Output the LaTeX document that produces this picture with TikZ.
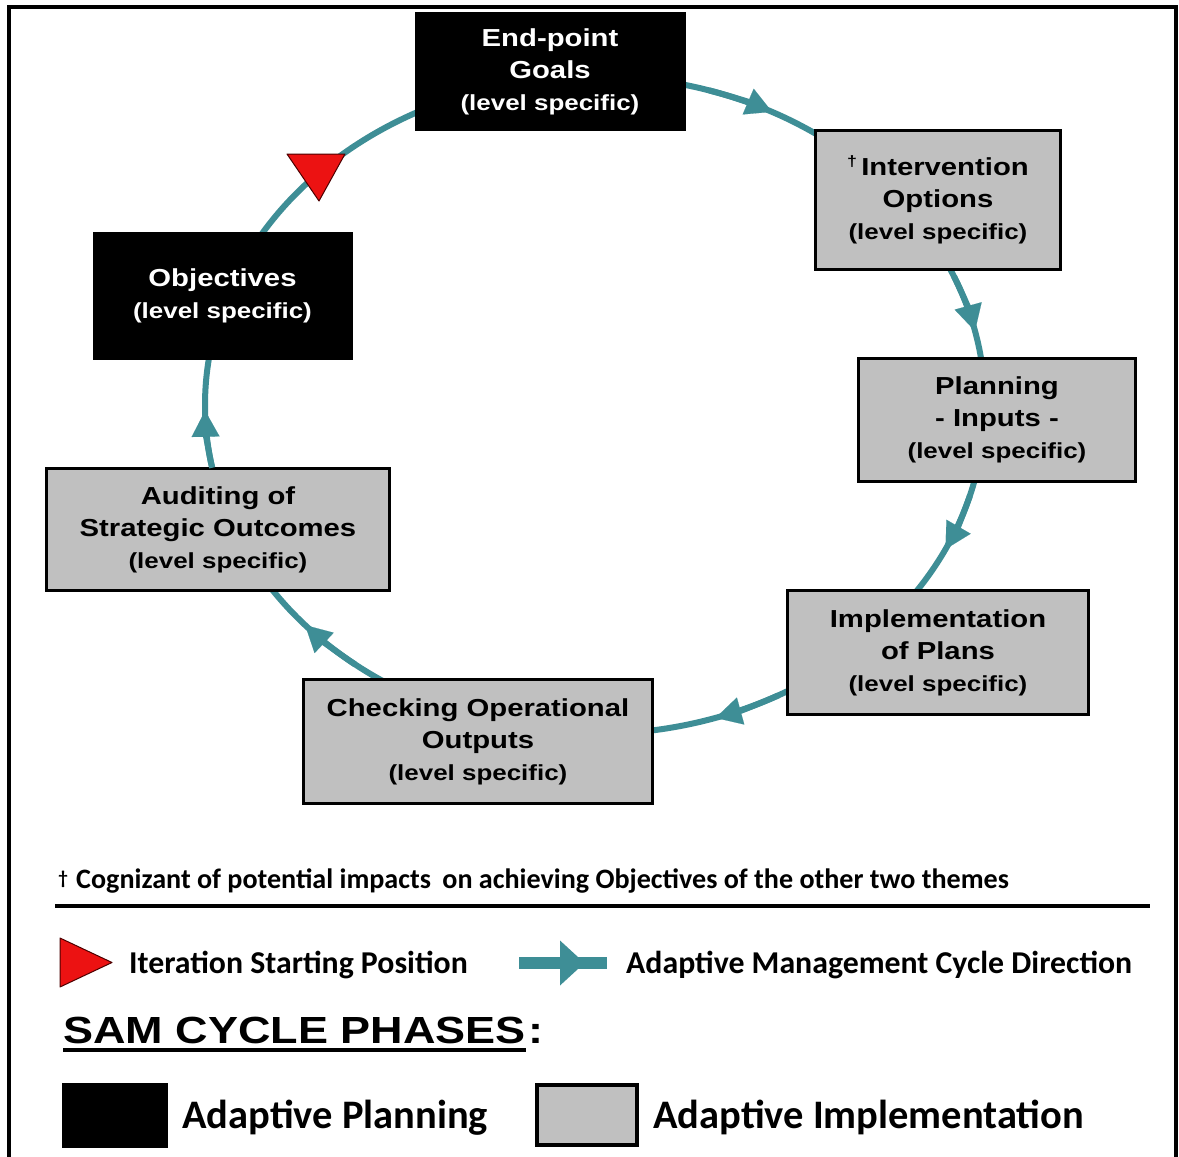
\documentclass[tikz,border=0pt]{standalone}
\usepackage{fontspec}
\setmainfont{Liberation Sans}
\newfontfamily\boxfont{Liberation Sans}[FakeStretch=1.19]
\newfontfamily\calfont{Carlito}
\usetikzlibrary{arrows.meta,calc}
\definecolor{cyc}{RGB}{62,142,150}
\definecolor{boxgray}{RGB}{192,192,192}
\definecolor{trired}{RGB}{236,18,18}
\pgfdeclarelayer{back}
\pgfdeclarelayer{bg}
\pgfsetlayers{back,bg,main}
\tikzset{
  cycline/.style={draw=cyc, line width=6pt},
  cyctip/.style={-{Triangle[length=26pt,width=28pt,line width=0.1pt]}},
  phasebox/.style={align=center, inner sep=0pt,
    font={\boxfont\bfseries\fontsize{24.6}{32}\selectfont}},
  planbox/.style={phasebox, fill=black, draw=black, line width=1pt, text=white},
  implbox/.style={phasebox, fill=boxgray, draw=black, line width=3.5pt, text=black},
  legtext/.style={anchor=base west, inner sep=0pt, font={\calfont\bfseries\fontsize{31.8}{36}\selectfont}},
  bigleg/.style={anchor=base west, inner sep=0pt, font={\calfont\bfseries\fontsize{40.5}{44}\selectfont}},
  starttri/.style={fill=trired, draw=black!70!red, line width=1pt, line join=round}
}
\newcommand\lvl{{\fontsize{21.8}{32}\selectfont (level specific)}}
\begin{document}
\begin{tikzpicture}[x=1pt,y=-1pt]
\useasboundingbox (0,0) rectangle (1179,1157);
\begin{pgfonlayer}{back}
  \fill[white] (0,0) rectangle (1179,1157);
\end{pgfonlayer}
% outer frame
\draw[line width=4pt] (9,1170) -- (9,7) -- (1175.5,7) -- (1175.5,1170);

% phase boxes
\node[planbox, minimum width=270, minimum height=118] (goals) at (550,71.5)
  {End-point\\Goals\\\lvl};
\node[implbox, minimum width=245, minimum height=139] (interv) at (938,200)
  {\raisebox{0.38em}{\fontsize{15}{15}\selectfont †}\,Intervention\\Options\\\lvl};
\node[implbox, minimum width=277, minimum height=123] (plan) at (997,420)
  {Planning\\- Inputs -\\\lvl};
\node[implbox, minimum width=301, minimum height=124] (impl) at (938,652.5)
  {Implementation\\of Plans\\\lvl};
\node[implbox, minimum width=349, minimum height=124] (check) at (478,741.5)
  {Checking Operational\\Outputs\\\lvl};
\node[implbox, minimum width=343, minimum height=122] (audit) at (218,529.5)
  {Auditing of\\Strategic Outcomes\\\lvl};
\node[planbox, minimum width=259, minimum height=127] (obj) at (222.5,295.5)
  {Objectives\\\lvl};

% cycle points inside the boxes
\coordinate (cg) at ($(595,405)+(97:390pt and 329pt)$);
\coordinate (ci) at ($(595,405)+(38:390pt and 329pt)$);
\coordinate (cp) at ($(595,405)+(2:390pt and 329pt)$);
\coordinate (cm) at ($(595,405)+(-45:390pt and 329pt)$);
\coordinate (cc) at ($(595,405)+(-95:390pt and 329pt)$);
\coordinate (ca) at ($(595,405)+(-158:390pt and 329pt)$);
\coordinate (co) at ($(595,405)+(-197:390pt and 329pt)$);

\begin{pgfonlayer}{bg}
  \draw[cycline] (cg) arc[start angle=97, end angle=38, x radius=390pt, y radius=329pt];
  \draw[cycline] (ci) arc[start angle=38, end angle=2, x radius=390pt, y radius=329pt];
  \draw[cycline] (cp) arc[start angle=2, end angle=-45, x radius=390pt, y radius=329pt];
  \draw[cycline] (cm) arc[start angle=-45, end angle=-95, x radius=390pt, y radius=329pt];
  \draw[cycline] (cc) arc[start angle=-95, end angle=-158, x radius=390pt, y radius=329pt];
  \draw[cycline] (ca) arc[start angle=-158, end angle=-197, x radius=390pt, y radius=329pt];
  \draw[cycline] (co) arc[start angle=-197, end angle=-263, x radius=390pt, y radius=329pt];
\end{pgfonlayer}

% direction arrowheads on the cycle
\foreach \t in {65,15,-24,-70,-136,-177}{
  \draw[cycline, cyctip] ($(595,405)+({\t+8}:390pt and 329pt)$)
    arc[start angle=\t+8, end angle=\t-2, x radius=390pt, y radius=329pt];
}
% iteration start marker
\filldraw[starttri] (287,154) -- (345,154) -- (319,201) -- cycle;

% footnote
\node[inner sep=0pt, font={\calfont\bfseries\fontsize{19}{19}\selectfont}] (dag) at (63,879) {†};
\node[anchor=base west, inner sep=0pt, font={\calfont\bfseries\fontsize{28.1}{30}\selectfont}] (fn) at (76,888)
  {Cognizant of potential impacts\hspace{5pt} on achieving Objectives of the other two themes};
\coordinate (rl) at (55,906);
\coordinate (rr) at (1150,906);
\draw[line width=4pt] (rl) -- (rr);

% legend row 1
\filldraw[starttri] (60,938) -- (112,962.5) -- (60,987) -- cycle;
\node[legtext] (lstart) at (129,973) {Iteration Starting Position};
\coordinate (la1) at (519,963);
\coordinate (la2) at (607,963);
\draw[draw=cyc, line width=12pt] (la1) -- (la2);
\fill[cyc] (560,940.5) -- (584.5,963) -- (560,985.5) -- cycle;
\node[legtext] (ldir) at (626,973) {Adaptive Management Cycle Direction};

% SAM cycle phases
\node[anchor=base west, inner sep=0pt, font={\boxfont\bfseries\fontsize{37.8}{40}\selectfont}] (sam) at (63,1043) {SAM\ CYCLE PHASES};
\node[anchor=base west, inner sep=0pt, font={\boxfont\bfseries\fontsize{37.8}{40}\selectfont}] (colon) at ([xshift=3pt]sam.base east) {:};
\draw[line width=3.5pt] ([yshift=-7pt]sam.base west) -- ([yshift=-7pt]sam.base east);

% phase legend
\node[fill=black, minimum width=106, minimum height=65, inner sep=0pt] (kplan) at (115,1115.5) {};
\node[bigleg] (tplan) at (182,1128) {Adaptive Planning};
\node[fill=boxgray, draw=black, line width=4pt, minimum width=100, minimum height=60, inner sep=0pt] (kimpl) at (587,1115) {};
\node[bigleg] (timpl) at (653,1128) {Adaptive Implementation};
\end{tikzpicture}
\end{document}
